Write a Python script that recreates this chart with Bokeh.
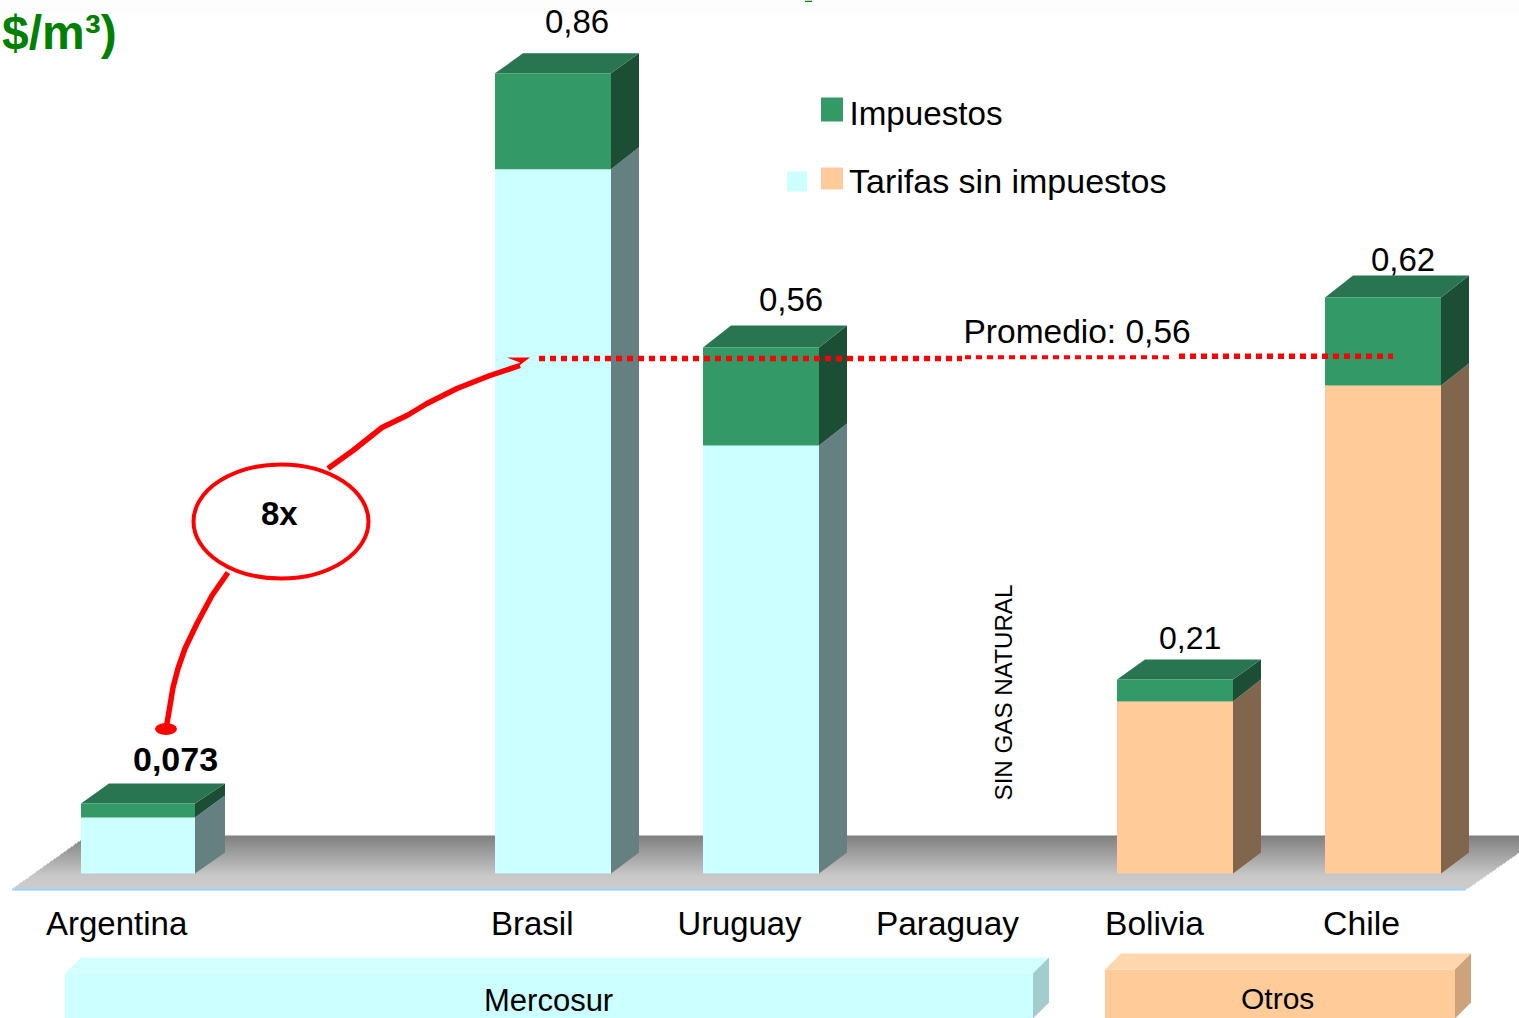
from bokeh.plotting import figure
from bokeh.models import Range1d
from bokeh.core.properties import value
from bokeh.embed import file_html
from bokeh.resources import INLINE

# ---- data ----
categories = ["Argentina", "Brasil", "Uruguay", "Paraguay", "Bolivia", "Chile"]
tarifas = [0.0602, 0.757, 0.460, 0.0, 0.185, 0.5246]
impuestos = [0.0150, 0.1032, 0.1054, 0.0, 0.0236, 0.0946]
value_labels = ["0,073", "0,86", "0,56", "", "0,21", "0,62"]
region = ["m", "m", "m", "m", "o", "o"]
promedio_label = "Promedio: 0,56"
group_labels = ["Mercosur", "Otros"]
legend_labels = ["Impuestos", "Tarifas sin impuestos"]

# ---- layout / styles ----
W, H = 1520, 1018
PX_Y = 930.2
X0, Y0 = 81.0, 873.0
bar_offsets = [0, 414, 622, 829, 1036, 1244]


def X(px):
    return px - X0


def Y(px):
    return (Y0 - px) / PX_Y


FONT = value("Liberation Sans")
widths = [114, 116, 116, 0, 116, 116]
depth_top = [20, 20, 22, 0, 20, 22]
depth_x_right = [30, 28, 28, 0, 28, 28]
front_col = {"m": "#CCFFFF", "o": "#FFCC99"}
side_col = {"m": "#648080", "o": "#80664D"}
GREEN, GREEN_TOP, GREEN_SIDE = "#339966", "#297552", "#1C4E35"
RED = "#FF0000"
BASE_SHIFT = 0.365

p = figure(width=W, height=H, output_backend="svg", toolbar_location=None,
           x_range=Range1d(X(0.5), X(W + 0.5)), y_range=Range1d(Y(H), Y(0)),
           min_border=0, min_border_left=0, min_border_right=0,
           min_border_top=0, min_border_bottom=0,
           background_fill_color="#FFFFFF", border_fill_color="#FFFFFF",
           outline_line_color=None)
p.axis.visible = False
p.grid.visible = False
p.styles = {"position": "absolute", "left": "0px", "top": "0px"}


def label(xpx, ypx, text, size, bold=False, color="#000000", vertical=False):
    shift = BASE_SHIFT * size
    p.text([X(xpx)], [Y(ypx)], text=[text], text_font=FONT,
           text_font_size=value("%gpx" % size),
           text_font_style="bold" if bold else "normal",
           text_color=color, text_align="left", text_baseline="alphabetic",
           angle=90 if vertical else 0, angle_units="deg",
           x_offset=-shift if vertical else 0, y_offset=0 if vertical else -shift)


# top band and clipped heading remains
p.quad(left=X(0), right=X(W + 1), top=Y(0), bottom=Y(14), fill_color="#FDFDFD", line_color=None)
p.quad(left=X(805), right=X(812), top=Y(0), bottom=Y(1.5), fill_color="#008000", line_color=None)

# floor, row by row for its gradient
lefts, rights, tops, bottoms, cols = [], [], [], [], []
for y in range(835, 888):
    t = y - 835
    g = 128 + 72 * t / 40 if t <= 40 else 200 + 4 * (t - 40) / 12
    g = int(round(g))
    lefts.append(X(round(12 + (888 - y) * 1.41)))
    rights.append(X(round(1466 + (888 - y) * 1.43)))
    tops.append(Y(y))
    bottoms.append(Y(min(y + 2, 888)))
    cols.append("#%02x%02x%02x" % (g, g, g))
p.quad(left=lefts, right=rights, top=tops, bottom=bottoms, fill_color=cols, line_color=None)
p.quad(left=X(12), right=X(1466), top=Y(888), bottom=Y(890), fill_color="#99CCFF", line_color=None)

# 3-D stacked bars
for i, cat in enumerate(categories):
    if tarifas[i] + impuestos[i] == 0:
        continue
    s = bar_offsets[i]
    w = widths[i]
    dxr = depth_x_right[i]
    dxl = 28
    dtop = depth_top[i] / PX_Y
    dsplit = 22 / PX_Y
    dbase = 21 / PX_Y
    split = tarifas[i]
    top = tarifas[i] + impuestos[i]
    r = s + w
    p.patch([r, r, r + dxr, r + dxr], [0, split, split + dsplit, dbase],
            fill_color=side_col[region[i]], line_color=None)
    p.patch([r, r, r + dxr, r + dxr], [split, top, top + dtop, split + dsplit],
            fill_color=GREEN_SIDE, line_color=None)
    p.patch([s, r, r + dxr, s + dxl], [top, top, top + dtop, top + dtop],
            fill_color=GREEN_TOP, line_color=None)
    p.quad(left=s, right=r, bottom=0, top=split, fill_color=front_col[region[i]], line_color=None)
    p.quad(left=s, right=r, bottom=split, top=top, fill_color=GREEN, line_color=None)

# value labels
label_x = [133, 545, 759, 0, 1159, 1371]
label_y = [771, 33, 311, 0, 649, 271]
label_s = [34, 33, 33, 0, 32, 33]
for i, lab in enumerate(value_labels):
    if lab:
        label(label_x[i], label_y[i], lab, label_s[i], bold=(i == 0))

# category labels
cat_x = [46, 491, 677.5, 876, 1105, 1323]
cat_size = [33, 33, 32.8, 33.4, 33.6, 33.8]
for cx, cs, cat in zip(cat_x, cat_size, categories):
    label(cx, 935, cat, cs)

# group bars
p.patch([X(65), X(81), X(1049), X(1033)], [Y(973), Y(957), Y(957), Y(973)], fill_color="#D4FFFF", line_color=None)
p.patch([X(1033), X(1049), X(1049), X(1033)], [Y(973), Y(957), Y(1002), Y(1018)], fill_color="#A3CCCC", line_color=None)
p.quad(left=X(65), right=X(1033), top=Y(973), bottom=Y(1018), fill_color="#CCFFFF", line_color=None)
p.patch([X(1105), X(1121), X(1471), X(1455)], [Y(969), Y(953), Y(953), Y(969)], fill_color="#FFD6AD", line_color=None)
p.patch([X(1455), X(1471), X(1471), X(1455)], [Y(969), Y(953), Y(1002), Y(1018)], fill_color="#CCA37A", line_color=None)
p.quad(left=X(1105), right=X(1455), top=Y(969), bottom=Y(1018), fill_color="#FFCC99", line_color=None)
label(484, 1011, group_labels[0], 31)
label(1241, 1009, group_labels[1], 30)

# legend
p.quad(left=X(821), right=X(843), top=Y(97), bottom=Y(121), fill_color=GREEN, line_color=None)
p.quad(left=X(821), right=X(843), top=Y(167), bottom=Y(189), fill_color="#FFCC99", line_color=None)
p.quad(left=X(787), right=X(807), top=Y(171), bottom=Y(191), fill_color="#CCFFFF", line_color=None)
label(849.5, 125, legend_labels[0], 33.2)
label(849, 193, legend_labels[1], 34)

# average line
p.line([X(539), X(962)], [Y(358), Y(358)], line_color=RED, line_width=5.5, line_dash="6 5")
p.line([X(965), X(1173)], [Y(356.7), Y(356.7)], line_color=RED, line_width=4, line_dash="6 5")
p.line([X(1179), X(1393)], [Y(355.7), Y(355.7)], line_color=RED, line_width=5.5, line_dash="6 5")
label(963.5, 343, promedio_label, 33.5)

# curved arrow, oval and 8x
low_x = [166, 168, 173, 178, 185, 197, 212, 228]
low_y = [728, 717, 687, 668, 648, 623, 595, 572]
up_x = [328, 353, 382, 407, 427, 457, 490, 520]
up_y = [468, 450, 427, 415, 403, 388, 375, 365]
p.line([X(v) for v in low_x], [Y(v) for v in low_y], line_color=RED, line_width=5.5, line_join="round")
p.line([X(v) for v in up_x], [Y(v) for v in up_y], line_color=RED, line_width=5.5, line_join="round")
p.patch([X(530), X(507), X(520), X(514)], [Y(357), Y(357), Y(362), Y(369)], fill_color=RED, line_color=None)
p.ellipse([X(166)], [Y(728.5)], width=22, height=12 / PX_Y, fill_color=RED, line_color=None)
p.ellipse([X(281)], [Y(521)], width=175, height=114 / PX_Y, fill_color="#FFFFFF",
          line_color=RED, line_width=4)
label(261, 525, "8x", 33, bold=True)

# vertical note
label(1012, 800, "SIN GAS NATURAL", 24.2, vertical=True)

# heading remains
label(2, 50, "$/m³)", 48, bold=True, color="#008000")

open("out.html", "w").write(file_html(p, INLINE))
